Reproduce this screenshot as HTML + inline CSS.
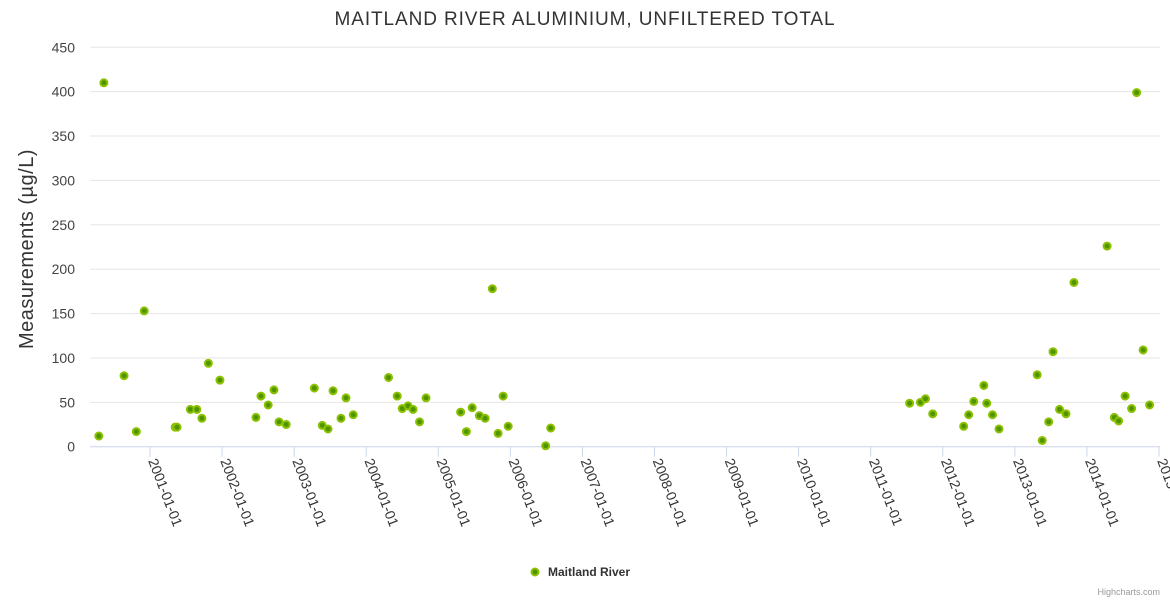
<!DOCTYPE html>
<html><head><meta charset="utf-8"><style>
body{margin:0;background:#fff;font-family:"Liberation Sans",sans-serif}
svg text{font-family:"Liberation Sans",sans-serif}
</style></head><body>
<svg id="chart" width="1170" height="600">
<text x="585" y="25" text-anchor="middle" font-size="19" letter-spacing="0.9" fill="#333">MAITLAND RIVER ALUMINIUM, UNFILTERED TOTAL</text>
<g id="grid"></g><g id="xaxis"></g><g id="pts"></g>
<text transform="translate(33,249) rotate(-90)" text-anchor="middle" font-size="20" letter-spacing="0.5" fill="#333">Measurements (µg/L)</text>
<g>
<circle cx="535" cy="572" r="3.5" fill="#4f9500" stroke="#8cc000" stroke-width="2"/>
<text x="548" y="576" font-size="12" font-weight="bold" fill="#333">Maitland River</text></g>
<text x="1160" y="595" text-anchor="end" font-size="9" fill="#999">Highcharts.com</text>
</svg>
<script>
const yTicks=[0,50,100,150,200,250,300,350,400,450];
const xTickYears=[2001,2002,2003,2004,2005,2006,2007,2008,2009,2010,2011,2012,2013,2014,2015];
const dates=[2000.29,2000.36,2000.64,2000.81,2000.92,2001.35,2001.375,2001.56,2001.65,2001.72,2001.81,2001.97,2002.47,2002.54,2002.64,2002.72,2002.79,2002.89,2003.28,2003.39,2003.47,2003.54,2003.65,2003.72,2003.82,2004.31,2004.43,2004.5,2004.58,2004.65,2004.74,2004.83,2005.31,2005.39,2005.47,2005.57,2005.65,2005.75,2005.83,2005.9,2005.97,2006.49,2006.56,2011.54,2011.69,2011.76,2011.86,2012.29,2012.36,2012.43,2012.57,2012.61,2012.69,2012.78,2013.31,2013.38,2013.47,2013.53,2013.62,2013.71,2013.82,2014.28,2014.38,2014.44,2014.53,2014.62,2014.69,2014.78,2014.87];
const values=[12,410,80,17,153,22,22,42,42,32,94,75,33,57,47,64,28,25,66,24,20,63,32,55,36,78,57,43,46,42,28,55,39,17,44,35,32,178,15,57,23,1,21,49,50,54,37,23,36,51,69,49,36,20,81,7,28,107,42,37,185,226,33,29,57,43,399,109,47];
const NS='http://www.w3.org/2000/svg';
const X0=90,X1=1160,Y0=446.7,Y1=47.3;
const xs=y=>150+(y-2001)*72.07;
const ys=v=>Y0-(v/450)*(Y0-Y1);
function mk(t,a,p){const e=document.createElementNS(NS,t);for(const k in a)e.setAttribute(k,a[k]);p.appendChild(e);return e;}
const grid=document.getElementById('grid');
yTicks.forEach(v=>{
 const l=mk('line',{x1:X0,x2:X1,y1:ys(v),y2:ys(v),stroke:v===0?'#ccd6eb':'#e6e6e6','stroke-width':1},grid);
 
 
 const t=mk('text',{x:75,y:ys(v)+5,'text-anchor':'end','font-size':14,fill:'#444'},grid);
 t.textContent=v;
 
 
});
const xa=document.getElementById('xaxis');
xTickYears.forEach(y=>{
 const x=xs(y);
 const l=mk('line',{x1:x,x2:x,y1:Y0,y2:Y0+10,stroke:'#ccd6eb'},xa);
 
 
 const t=mk('text',{transform:`translate(${x-2},${Y0+14}) rotate(69)`,'font-size':14,fill:'#333'},xa);
 t.textContent=y+'-01-01';
 
 
});
const pts=document.getElementById('pts');
dates.forEach((d,i)=>{
 const c=mk('circle',{cx:xs(d),cy:ys(values[i]),r:3.5,fill:'#4f9500',stroke:'#8cc000','stroke-width':2},pts);
 
 
});
</script>
</body></html>
